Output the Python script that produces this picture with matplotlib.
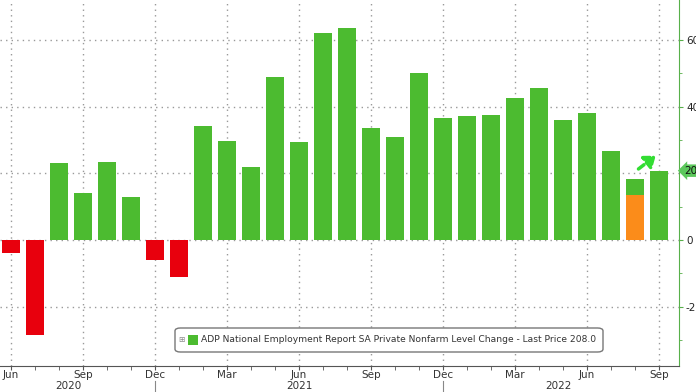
import matplotlib
matplotlib.use('Agg')
import matplotlib.pyplot as plt
from matplotlib.patches import Rectangle

# ADP private payrolls, monthly change (thousands), Jun 2020 - Sep 2022
months = ['Jun', 'Jul', 'Aug', 'Sep', 'Oct', 'Nov', 'Dec',
          'Jan', 'Feb', 'Mar', 'Apr', 'May', 'Jun', 'Jul', 'Aug', 'Sep', 'Oct', 'Nov', 'Dec',
          'Jan', 'Feb', 'Mar', 'Apr', 'May', 'Jun', 'Jul', 'Aug', 'Sep']
values = [-40, -285, 230, 140, 234, 129, -60,
          -110, 341, 298, 218, 489, 293, 620, 635, 337, 308, 501, 367,
          373, 376, 426, 457, 360, 380, 268, 183, 208]
prior_aug = 135  # orange: previous estimate for Aug 2022
years = ['2020', '2021', '2022']
year_pos = [2.4, 12.0, 22.8]
year_breaks = [6, 18]
yticks = [600, 400, 0, -200]
last_price = 208.0

GREEN = '#4cbb30'
RED = '#e8000d'
ORANGE = '#fb8c1a'
AXGREEN = '#58b04a'

fig = plt.figure(figsize=(6.96, 3.92), dpi=100)
ax = fig.add_axes([0, 1 - 366 / 392, 679 / 696, 366 / 392])

x = list(range(len(values)))
colors = [GREEN if v >= 0 else RED for v in values]
ax.bar(x, values, width=0.75, color=colors, zorder=3)
ax.bar([x[-2]], [prior_aug], width=0.75, color=ORANGE, zorder=4)

ax.set_xlim(-0.46, 27.83)
ax.set_ylim(-378, 720)

# grid
for yv in [600, 400, 200, 0, -200]:
    ax.axhline(yv, color='#999999', ls=(0, (1, 3)), lw=1.0, zorder=1)
for i, m in enumerate(months):
    if m in ('Jun', 'Sep', 'Dec', 'Mar'):
        ax.axvline(i, color='#999999', ls=(0, (1, 3)), lw=1.0, zorder=1)

for s in ['top', 'left']:
    ax.spines[s].set_visible(False)
ax.spines['right'].set_color(AXGREEN)
ax.spines['bottom'].set_color('#555555')

# right-hand labels run off the image edge, as in the source screenshot
ax.yaxis.tick_right()
ax.set_yticks(yticks)
ax.set_yticklabels([str(v) for v in yticks], fontsize=7.5, color='#222222')
ax.set_yticks([500, 300, 100, -100, -300], minor=True)
ax.tick_params(axis='y', which='both', colors=AXGREEN, labelcolor='#222222', length=3, pad=2)
ax.tick_params(axis='y', which='minor', length=2)

q = [i for i, m in enumerate(months) if m in ('Jun', 'Sep', 'Dec', 'Mar')]
ax.set_xticks(q)
ax.set_xticklabels([months[i] for i in q], fontsize=7.5, color='#333333')
ax.set_xticks(x, minor=True)
ax.tick_params(axis='x', which='both', length=3, color='#555555', pad=0)

for yr, p in zip(years, year_pos):
    ax.text(p, -0.040, yr, transform=ax.get_xaxis_transform(), ha='center', va='top',
            fontsize=7.5, color='#333333')
for b in year_breaks:
    ax.plot([b, b], [-0.04, -0.08], transform=ax.get_xaxis_transform(), color='#888888',
            lw=0.8, clip_on=False)

# last price tag
ax.text(1.008, last_price, '%.1f' % last_price, transform=ax.get_yaxis_transform(),
        va='center', ha='left', fontsize=7.5, color='#111111',
        bbox=dict(boxstyle='larrow,pad=0.12', fc='#5cc85c', ec='none'))

# dashed arrow Aug -> Sep
ax.annotate('', xy=(x[-1] - 0.05, values[-1] + 50), xytext=(x[-2] + 0.05, values[-2] + 25),
            arrowprops=dict(arrowstyle='-|>,head_width=0.45,head_length=0.6', color='#33dd33',
                            lw=2.5, ls=(0, (2, 1))), zorder=5)

# legend box
lx0, lx1 = 175 / 679, 603 / 679
ly0, ly1 = (366 - 352) / 366, (366 - 328) / 366
box = matplotlib.patches.FancyBboxPatch((lx0, ly0), lx1 - lx0, ly1 - ly0,
                                        boxstyle='round,pad=0,rounding_size=0.008',
                                        transform=ax.transAxes, fc='white', ec='#777777',
                                        lw=1.0, zorder=6)
ax.add_patch(box)
ax.text(lx0 + 6 / 679, (ly0 + ly1) / 2, '\u229e', transform=ax.transAxes, fontsize=5.5,
        va='center', ha='center', color='#888888', zorder=7)
ax.add_patch(Rectangle((lx0 + 13 / 679, (ly0 + ly1) / 2 - 5 / 366), 10 / 679, 10 / 366,
                       transform=ax.transAxes, fc=GREEN, ec='none', zorder=7))
ax.text(lx0 + 26 / 679, (ly0 + ly1) / 2,
        'ADP National Employment Report SA Private Nonfarm Level Change - Last Price 208.0',
        transform=ax.transAxes, fontsize=6.6, va='center', ha='left', color='#333333', zorder=7)

fig.savefig('out.png', dpi=100)
